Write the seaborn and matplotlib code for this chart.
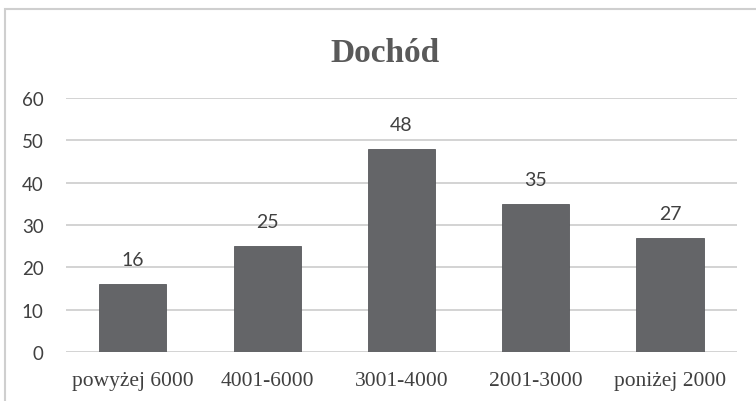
import matplotlib
matplotlib.use("Agg")
import matplotlib.pyplot as plt
from matplotlib.patches import Rectangle
import seaborn as sns
import pandas as pd

# Income brackets and respondent counts
categories = ["powyżej 6000", "4001-6000", "3001-4000", "2001-3000", "poniżej 2000"]
counts = [16, 25, 48, 35, 27]
y_ticks = [0, 10, 20, 30, 40, 50, 60]
title = "Dochód"

df = pd.DataFrame({"kategoria": categories, "liczba": counts})

sns.set_theme(style="white")
plt.rcParams["font.family"] = ["Lato", "DejaVu Sans"]

fig = plt.figure(figsize=(7.56, 4.02), dpi=100)
ax = fig.add_axes([0.087, 0.122, 0.888, 0.632])

sns.barplot(data=df, x="kategoria", y="liczba", color="#646568",
            width=0.5, saturation=1, ax=ax, zorder=3)
for p in ax.patches:
    p.set_edgecolor("#58595c")
    p.set_linewidth(0.6)

ax.set_ylim(0, 60)
ax.set_yticks(y_ticks)
ax.set_yticklabels([str(t) for t in y_ticks], fontsize=13.5, color="#404040")
ax.set_xticks(range(len(categories)))
ax.set_xticklabels(categories, fontsize=15.5, color="#404040",
                   family=["Liberation Serif"])
ax.set_xlabel("")
ax.set_ylabel("")
ax.tick_params(axis="y", length=0, pad=16)
ax.tick_params(axis="x", length=0, pad=14)

ax.yaxis.grid(True, color="#d3d3d3", linewidth=1.4, zorder=0)
ax.set_axisbelow(True)
for s in ax.spines.values():
    s.set_visible(False)

for i, v in enumerate(counts):
    ax.annotate(str(v), (i, v), xytext=(0, 17.5), textcoords="offset points",
                ha="center", va="center", fontsize=14, color="#404040")

fig.text(0.509, 1 - 62 / 402, title, ha="center", va="baseline", fontsize=24,
         fontweight="bold", color="#595959", family=["Liberation Serif"])

# Outer chart frame (top and left edges visible)
fig.patches.append(Rectangle((5 / 756, -0.1), 1.2, 1 - 10 / 402 + 0.1,
                             transform=fig.transFigure, fill=False,
                             edgecolor="#cfcfcf", linewidth=1.5))

fig.savefig("out.png", dpi=100)
